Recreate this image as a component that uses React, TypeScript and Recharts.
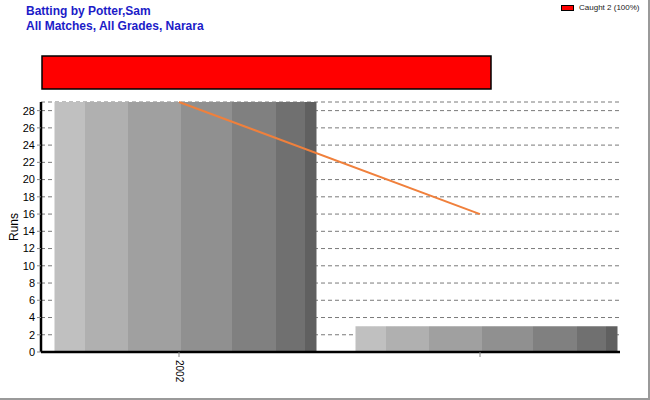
import React from "react";
import {
  ComposedChart,
  BarChart,
  Bar,
  Line,
  XAxis,
  YAxis,
  CartesianGrid,
  Legend,
} from "recharts";

const seasons = ["2002", ""];
const runs = [29, 3];
const avgRuns = [29, 16];
const runTicks = [0, 2, 4, 6, 8, 10, 12, 14, 16, 18, 20, 22, 24, 26, 28];

const dismissalTypes = ["Caught"];
const dismissalCounts = [2];
const dismissalColors = ["#ff0000"];

const FONT = "Arial, 'Liberation Sans', sans-serif";

// grey bands across each bar
const barBands = [
  { from: 0, to: 0.115, color: "#c0c0c0" },
  { from: 0.115, to: 0.282, color: "#b0b0b0" },
  { from: 0.282, to: 0.481, color: "#a0a0a0" },
  { from: 0.481, to: 0.679, color: "#909090" },
  { from: 0.679, to: 0.847, color: "#808080" },
  { from: 0.847, to: 0.958, color: "#707070" },
  { from: 0.958, to: 1, color: "#606060" },
];

const data = seasons.map((s, i) => ({ season: s, runs: runs[i], avg: avgRuns[i] }));

const totalOut = dismissalCounts.reduce((a, b) => a + b, 0);
const dismissalRow = dismissalTypes.reduce<Record<string, number | string>>(
  (row, t, i) => {
    row[t] = dismissalCounts[i];
    return row;
  },
  { name: "out" }
);

function SeasonTick(props: any) {
  const { x, y, payload } = props;
  return (
    <text
      x={x}
      y={y + 1}
      transform={`rotate(90, ${x}, ${y + 1})`}
      textAnchor="start"
      dominantBaseline="central"
      fontSize={10}
      fontFamily={FONT}
      fill="#000"
    >
      {payload.value}
    </text>
  );
}

function DismissalLegend() {
  return (
    <div style={{ fontFamily: FONT, fontSize: 8, color: "#222" }}>
      {dismissalTypes.map((t, i) => (
        <div key={t} style={{ display: "flex", alignItems: "center" }}>
          <span
            style={{
              display: "inline-block",
              width: 11,
              height: 4,
              background: dismissalColors[i],
              border: "1px solid #000",
              marginRight: 5,
            }}
          />
          {t} {dismissalCounts[i]} ({Math.round((dismissalCounts[i] / totalOut) * 100)}%)
        </div>
      ))}
    </div>
  );
}

export default function App() {
  return (
    <div
      style={{
        position: "absolute",
        left: 0,
        top: 0,
        width: 650,
        height: 400,
        boxSizing: "border-box",
        borderRight: "2px solid #9a9a9a",
        borderBottom: "2px solid #9a9a9a",
        background: "#fff",
        overflow: "hidden",
      }}
    >
      <div
        style={{
          position: "absolute",
          left: 26,
          top: 4,
          fontFamily: FONT,
          fontSize: 12,
          fontWeight: "bold",
          lineHeight: "15px",
          color: "#1c1cc8",
        }}
      >
        <div>Batting by Potter,Sam</div>
        <div>All Matches, All Grades, Narara</div>
      </div>

      <div style={{ position: "absolute", left: 0, top: 0 }}>
        <ComposedChart
          width={650}
          height={400}
          data={data}
          margin={{ top: 102, right: 30, left: 0, bottom: 18 }}
        >
          <defs>
            <linearGradient id="greyBands" x1="0" y1="0" x2="1" y2="0">
              {barBands.flatMap((b) => [
                <stop key={b.color + "a"} offset={b.from} stopColor={b.color} />,
                <stop key={b.color + "b"} offset={b.to} stopColor={b.color} />,
              ])}
            </linearGradient>
          </defs>
          <CartesianGrid
            vertical={false}
            stroke="#7a7a7a"
            strokeDasharray="4 3"
          />
          <XAxis
            xAxisId="main"
            dataKey="season"
            type="category"
            padding={{ left: -12.5, right: -10.5 }}
            height={30}
            axisLine={{ stroke: "#000", strokeWidth: 2.5 }}
            tickLine={{ stroke: "#888" }}
            tickSize={5}
            tick={<SeasonTick />}
            interval={0}
          />
          <XAxis
            xAxisId="bars"
            orientation="top"
            dataKey="season"
            type="category"
            padding={{ left: -6.5, right: -16.5 }}
            hide
          />
          <YAxis
            type="number"
            domain={[0, 29]}
            ticks={runTicks}
            width={41}
            tickSize={4}
            tickMargin={2}
            interval={0}
            axisLine={{ stroke: "#000", strokeWidth: 2.5 }}
            tickLine={{ stroke: "#888" }}
            tick={{ fontSize: 11, fill: "#000", fontFamily: FONT }}
            label={{
              value: "Runs",
              angle: -90,
              position: "center",
              dx: -7,
              fontSize: 12,
              fill: "#000",
              fontFamily: FONT,
            }}
          />
          <Bar
            xAxisId="bars"
            dataKey="runs"
            barSize={262}
            fill="url(#greyBands)"
            isAnimationActive={false}
          />
          <Line
            xAxisId="main"
            dataKey="avg"
            stroke="#f0803c"
            strokeWidth={2}
            dot={false}
            activeDot={false}
            isAnimationActive={false}
          />
        </ComposedChart>
      </div>

      <div style={{ position: "absolute", left: 0, top: 0 }}>
        <BarChart
          width={650}
          height={100}
          layout="vertical"
          data={[dismissalRow]}
          barCategoryGap={0}
          margin={{ top: 56, right: 159, left: 42, bottom: 11 }}
        >
          <XAxis type="number" domain={[0, totalOut]} hide />
          <YAxis type="category" dataKey="name" hide />
          <Legend
            layout="horizontal"
            verticalAlign="middle"
            align="center"
            content={<DismissalLegend />}
            wrapperStyle={{ position: "absolute", top: 3, left: 561, width: 85 }}
          />
          {dismissalTypes.map((t, i) => (
            <Bar
              key={t}
              dataKey={t}
              stackId="out"
              fill={dismissalColors[i]}
              stroke="#000"
              strokeWidth={1.5}
              isAnimationActive={false}
            />
          ))}
        </BarChart>
      </div>
    </div>
  );
}
